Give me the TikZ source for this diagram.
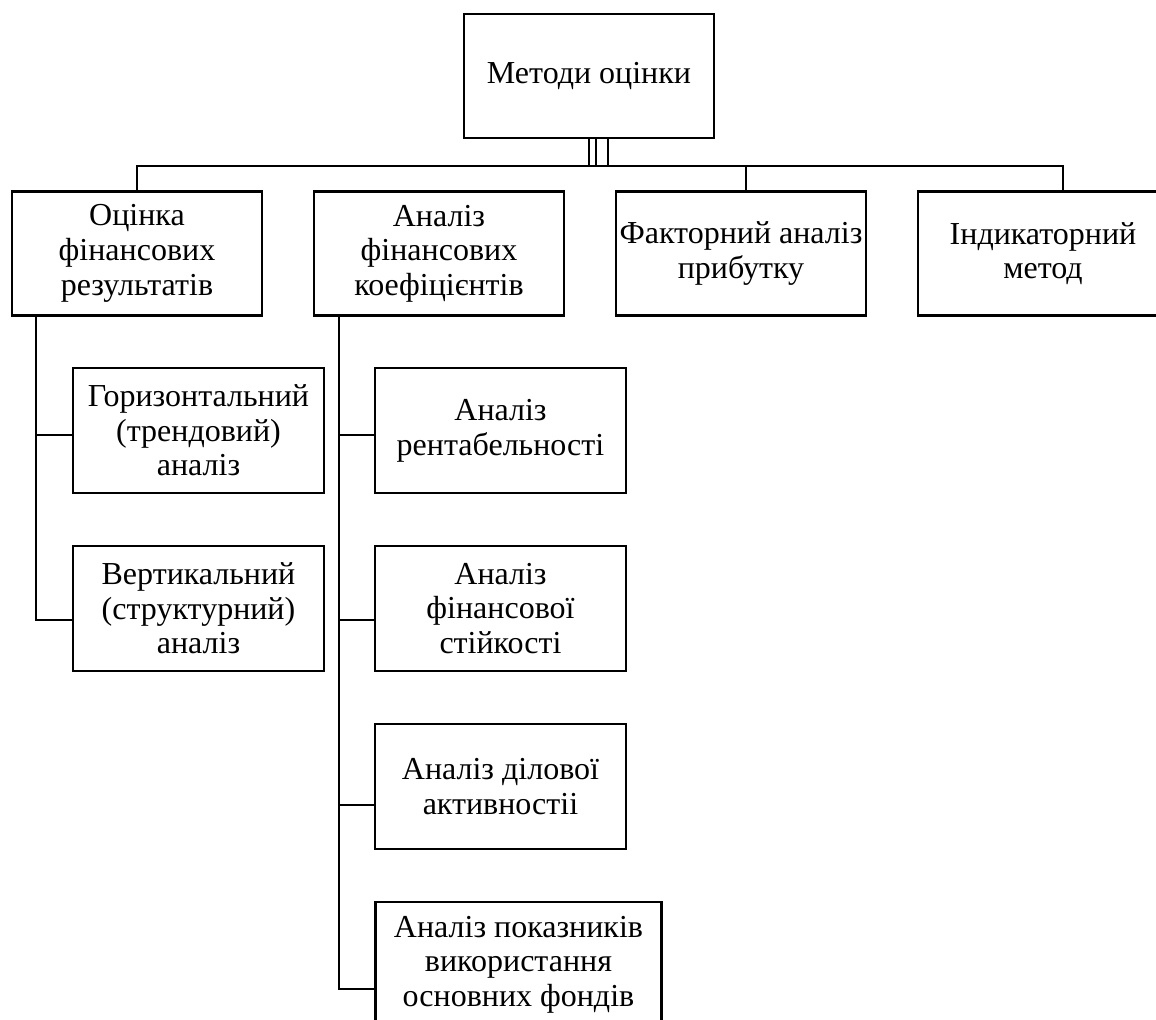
\documentclass[tikz,border=0pt]{standalone}
\usepackage{fontspec}
\setmainfont{Liberation Serif}

\begin{document}
\begin{tikzpicture}[x=0.75pt, y=0.75pt, node distance=226.5pt,
    box/.style={draw, line width=1.6pt, align=center, inner sep=1pt,
      minimum width=187.5pt, minimum height=93pt, font=\fontsize{24}{26}\selectfont},
    link/.style={line width=1.6pt}]
      \useasboundingbox (0,0) rectangle (1156,-1020);
      \clip (0,0) rectangle (1156,-1020);
      \node (metody) [box] at (589,-76) {Методи оцінки};
      \node (ocinka) [box] at (137,-253.5) {Оцінка\\фінансових\\результатів};
      \node (koef) [box, right of=ocinka] {Аналіз\\фінансових\\коефіцієнтів};
      \node (faktor) [box, right of=koef] {Факторний аналіз\\прибутку};
      \node (indyk) [box, right of=faktor] {Індикаторний\\метод};
      \node (horyz) [box, minimum width=188pt, minimum height=94pt] at (198.5,-430.5) {Горизонтальний\\(трендовий)\\аналіз};
      \node (vert) [box, minimum width=188pt, minimum height=94pt, below of=horyz, node distance=133.5pt] {Вертикальний\\(структурний)\\аналіз};
      \node (rent) [box, minimum width=188pt, minimum height=94pt] at (500.5,-430.5) {Аналіз\\рентабельності};
      \node (stiik) [box, minimum width=188pt, minimum height=94pt, below of=rent, node distance=133.5pt] {Аналіз\\фінансової\\стійкості};
      \node (dilova) [box, minimum width=188pt, minimum height=94pt, below of=stiik, node distance=133.5pt] {Аналіз ділової\\активностіі};
      \node (fondy) [box, minimum width=214.5pt, minimum height=94pt, below of=dilova, node distance=133.5pt, xshift=13.5pt] {Аналіз показників\\використання\\основних фондів};
      \coordinate (bar) at (589,-166);
      \draw [link] (metody.south) -- (bar);
      \draw [link] ([xshift=5.25pt]metody.south) -- ([xshift=5.25pt]bar);
      \draw [link] ([xshift=14.25pt]metody.south) -- ([xshift=14.25pt]bar);
      \draw [link] (ocinka.north) |- ([xshift=15pt]indyk.north |- bar) -- ([xshift=15pt]indyk.north);
      \draw [link] ([xshift=3.75pt]faktor.north |- bar) -- ([xshift=3.75pt]faktor.north);
      \draw [link] ([xshift=18.75pt]ocinka.south west) |- ([yshift=-3.4pt]horyz.west);
      \draw [link] ([xshift=18.75pt]ocinka.south west) |- ([yshift=-8.6pt]vert.west);
      \draw [link] ([xshift=19.5pt]koef.south west) |- ([yshift=-3.4pt]rent.west);
      \draw [link] ([xshift=19.5pt]koef.south west) |- ([yshift=-8.6pt]stiik.west);
      \draw [link] ([xshift=19.5pt]koef.south west) |- ([yshift=-13.9pt]dilova.west);
      \draw [link] ([xshift=19.5pt]koef.south west) |- ([yshift=-18.4pt]fondy.west);
\end{tikzpicture}
\end{document}
